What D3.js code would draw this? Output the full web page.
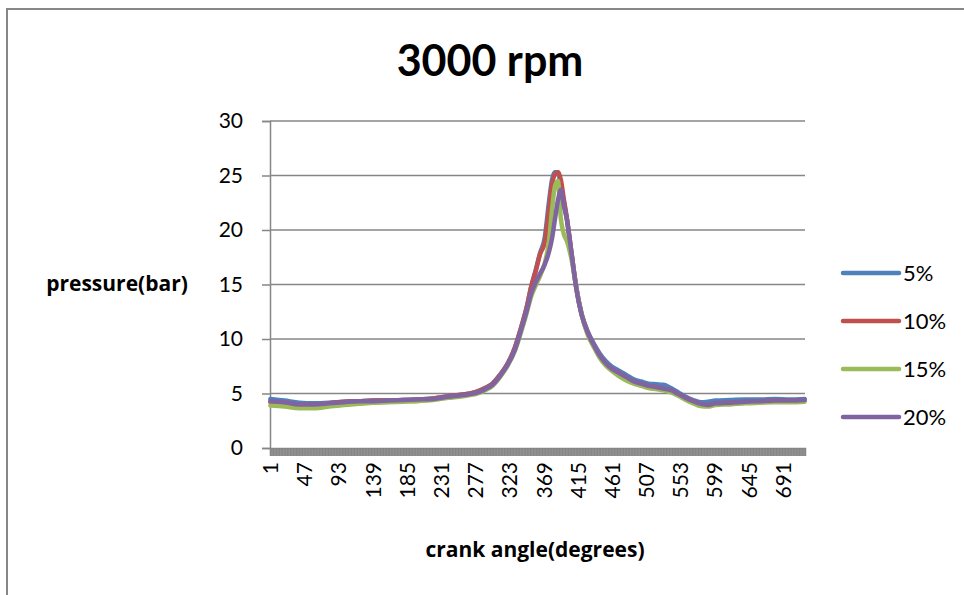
<!DOCTYPE html>
<html>
<head>
<meta charset="utf-8">
<script src="https://cdn.jsdelivr.net/npm/d3@7"></script>
<style>
  body { margin: 0; background: #fff; }
  svg { display: block; font-family: Lato, "Open Sans", sans-serif; }
</style>
</head>
<body>
<script>
// crank angle categories (1..720) and the ones that get a label
const categories = d3.range(1, 721);
const labelStep = 46;
const yTicks = [0, 5, 10, 15, 20, 25, 30];

const angles = [1,20,40,60,80,100,120,140,160,180,200,220,240,260,280,290,300,310,320,330,340,346,352,358,364,370,376,380,384,388,392,396,400,406,413,420,428,436,444,452,460,470,480,490,500,510,520,530,540,550,560,570,580,590,600,620,640,660,680,700,720];

const p5  = [4.5,4.35,4.15,4.1,4.15,4.25,4.3,4.35,4.35,4.4,4.45,4.55,4.75,4.9,5.2,5.5,5.9,6.7,7.7,9.2,11.4,12.9,14.8,16.3,17.9,19.2,22.6,24.6,25.3,25.3,24.0,22.6,21.0,18.0,14.6,12.3,10.7,9.6,8.7,8.0,7.5,7.1,6.7,6.3,6.1,5.9,5.85,5.8,5.5,5.1,4.7,4.4,4.2,4.25,4.35,4.4,4.45,4.45,4.5,4.45,4.5];
const p10 = [4.2,4.1,4.0,4.0,4.1,4.25,4.3,4.35,4.35,4.4,4.45,4.55,4.75,4.9,5.2,5.5,5.9,6.7,7.7,9.2,11.4,12.9,14.8,16.2,17.8,18.8,22.0,24.2,25.1,25.3,24.6,22.8,21.1,18.0,14.6,12.2,10.6,9.5,8.5,7.8,7.3,6.9,6.5,6.1,5.9,5.7,5.6,5.45,5.3,4.95,4.6,4.3,4.05,3.95,4.1,4.15,4.25,4.3,4.35,4.35,4.4];
const p15 = [3.9,3.8,3.65,3.65,3.8,3.95,4.05,4.15,4.2,4.25,4.3,4.4,4.6,4.75,5.0,5.3,5.7,6.5,7.5,8.9,11.0,12.4,13.9,14.9,15.8,16.9,19.0,21.8,24.0,24.5,21.0,19.6,19.0,17.4,14.6,12.2,10.4,9.3,8.3,7.6,7.1,6.6,6.2,5.9,5.7,5.5,5.4,5.3,5.1,4.8,4.4,4.1,3.85,3.8,3.95,4.0,4.1,4.15,4.2,4.2,4.25];
const p20 = [4.3,4.2,4.0,4.0,4.1,4.2,4.3,4.3,4.35,4.4,4.45,4.5,4.7,4.85,5.1,5.4,5.8,6.6,7.6,9.0,11.2,12.6,14.2,15.2,16.0,16.8,18.0,19.2,21.0,22.7,23.7,22.2,21.0,18.0,14.5,12.2,10.6,9.5,8.5,7.8,7.3,6.9,6.5,6.1,5.9,5.7,5.6,5.45,5.3,4.95,4.6,4.3,4.05,3.95,4.1,4.15,4.25,4.3,4.35,4.35,4.4];

const seriesNames = ["5%", "10%", "15%", "20%"];
const seriesValues = [p5, p10, p15, p20];
const colors = ["#4F81BD", "#C0504D", "#9BBB59", "#8064A2"];

const width = 964, height = 595;
const margin = {left: 270, right: 805, top: 121, bottom: 448};
const gridColor = "#868686";

const svg = d3.select("body").append("svg")
    .attr("width", width)
    .attr("height", height);

// chart frame (cut off on the right and at the bottom)
svg.append("rect")
    .attr("x", 7).attr("y", 9)
    .attr("width", 1000).attr("height", 700)
    .attr("fill", "#fff")
    .attr("stroke", "#878787")
    .attr("stroke-width", 2);

const x = d3.scaleBand()
    .domain(categories)
    .range([margin.left, margin.right]);

const y = d3.scaleLinear()
    .domain([0, 30])
    .range([margin.bottom, margin.top]);

const cx = a => x(a) + x.bandwidth() / 2;

// gridlines
svg.append("g")
    .selectAll("line")
    .data(yTicks.filter(d => d > 0))
    .join("line")
        .attr("x1", margin.left)
        .attr("x2", margin.right)
        .attr("y1", d => y(d))
        .attr("y2", d => y(d))
        .attr("stroke", gridColor)
        .attr("stroke-width", 1.5);

// y axis
const yAxis = svg.append("g")
    .attr("transform", "translate(" + margin.left + ",0)")
    .call(d3.axisLeft(y).tickValues(yTicks).tickSize(8).tickPadding(19));
yAxis.select(".domain").attr("stroke", gridColor).attr("stroke-width", 1.5);
yAxis.selectAll(".tick line").attr("stroke", gridColor).attr("stroke-width", 1.5);
yAxis.selectAll(".tick text")
    .style("font-family", "Lato, sans-serif")
    .style("font-size", "21px")
    .attr("fill", "#000");

// x axis: one tick per category, which packs into a solid band
const xAxis = svg.append("g")
    .attr("transform", "translate(0," + margin.bottom + ")")
    .call(d3.axisBottom(x)
        .tickSize(8)
        .tickFormat(d => (d - 1) % labelStep === 0 ? d : ""));
xAxis.select(".domain").attr("stroke", gridColor).attr("stroke-width", 1.5);
xAxis.selectAll(".tick line").attr("stroke", gridColor).attr("stroke-width", 1.1);
xAxis.selectAll(".tick text")
    .attr("transform", "rotate(-90)")
    .attr("x", -14)
    .attr("y", 0)
    .attr("dy", "0.36em")
    .style("text-anchor", "end")
    .style("font-family", "Lato, sans-serif")
    .style("font-size", "21px")
    .attr("fill", "#000");

// series lines
const line = d3.line()
    .x((d, i) => cx(angles[i]))
    .y(d => y(d))
    .curve(d3.curveMonotoneX);

svg.append("g")
    .selectAll("path")
    .data(seriesValues)
    .join("path")
        .attr("d", line)
        .attr("fill", "none")
        .attr("stroke", (d, i) => colors[i])
        .attr("stroke-width", 4.5)
        .attr("stroke-linejoin", "round")
        .attr("stroke-linecap", "round");

// title
svg.append("text")
    .attr("x", 490)
    .attr("y", 76)
    .attr("text-anchor", "middle")
    .style("font-size", "43px")
    .style("font-weight", 700)
    .text("3000 rpm");

// axis titles
svg.append("text")
    .attr("x", 117)
    .attr("y", 291)
    .attr("text-anchor", "middle")
    .style("font-family", "'Open Sans', sans-serif")
    .style("font-size", "21px")
    .style("font-weight", 700)
    .text("pressure(bar)");

svg.append("text")
    .attr("x", 535)
    .attr("y", 557)
    .attr("text-anchor", "middle")
    .style("font-family", "'Open Sans', sans-serif")
    .style("font-size", "21px")
    .style("font-weight", 700)
    .text("crank angle(degrees)");

// legend
const legend = svg.append("g")
    .selectAll("g")
    .data(seriesNames)
    .join("g")
        .attr("transform", (d, i) => "translate(843," + (273 + i * 48) + ")");

legend.append("line")
    .attr("x1", 0).attr("x2", 56)
    .attr("stroke", (d, i) => colors[i])
    .attr("stroke-width", 4.5)
    .attr("stroke-linecap", "round");

legend.append("text")
    .attr("x", 60)
    .attr("y", 7.5)
    .style("font-size", "22px")
    .text(d => d);
</script>
</body>
</html>
